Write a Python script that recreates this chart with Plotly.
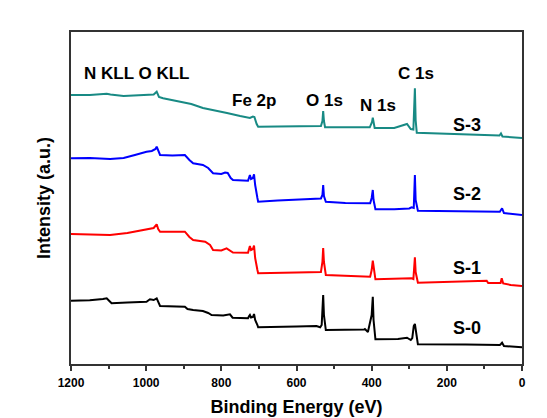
import plotly.graph_objects as go

# Binding energy (eV) and intensity (a.u., offset stacked) for each sample
e_s3 = [1200, 1150, 1105, 1095, 1060, 1000, 980, 972, 966, 955, 910, 880, 849, 820, 785, 750, 724, 716, 712, 706, 702,
        650, 560, 535, 531, 529, 527, 524, 450, 405, 399, 397, 395, 392, 340, 306, 296, 289, 285, 283, 280,
        200, 100, 60, 56, 52, 20, 0]
i_s3 = [305, 305, 306.2, 305.5, 304, 305, 305.5, 308.3, 303, 301.7, 298.3, 296, 292, 290, 287, 284, 282, 283.5, 283, 276, 273.3,
        273.5, 274, 274, 279, 289, 279, 272.7, 272.7, 272.7, 278, 282.3, 278, 272, 272, 276, 271, 270.5, 311.7, 280, 267.3,
        266, 265, 264.5, 266.5, 263.5, 263, 262]

e_s2 = [1200, 1150, 1096, 1060, 1030, 999, 985, 975, 972, 968, 963, 930, 897, 885, 875, 849, 835, 822, 800, 790, 783,
        775, 769, 729, 726, 724, 721, 716, 713, 710, 704, 702, 650, 580, 547, 535, 531, 529, 527, 522, 470, 404,
        400, 397, 395, 390, 340, 300, 294, 288, 285, 283, 277, 150, 59, 56, 53, 48, 30, 0]
i_s2 = [241.7, 242, 241, 242, 245, 248.3, 249, 251, 253.3, 249, 245, 244.5, 245, 240, 236.7, 235, 232, 226.7, 226, 227.5, 227,
        222, 220, 219.3, 223, 225, 221, 222, 225.7, 215, 202, 198.3, 199.5, 201, 201.7, 201.5, 205, 215, 204, 198.3, 197, 196.7,
        202, 210, 200, 190.7, 190.7, 191.5, 192.7, 192, 225, 200, 189.3, 188.5, 188.3, 190, 191.7, 187, 186, 185]

e_s1 = [1200, 1150, 1096, 1050, 990, 980, 972, 968, 963, 897, 885, 875, 843, 830, 822, 800, 786, 778, 769, 729, 726,
        724, 721, 716, 713, 710, 704, 702, 600, 547, 535, 531, 529, 527, 522, 404, 400, 397, 394, 390, 294, 289,
        285, 283, 277, 150, 94, 90, 57, 54, 50, 30, 0]
i_s1 = [166, 165.5, 165, 167, 170.7, 172, 175.7, 171, 168.3, 168.3, 163, 160, 158.3, 155, 150, 149.5, 151.7, 150, 147.5, 147.3, 152,
        154, 150, 151, 154.5, 142, 130, 126.7, 127.5, 128.3, 128, 138, 152, 138, 125, 123.3, 130, 139.3, 130, 120.7, 121.7, 121,
        142.7, 128, 117.3, 118.5, 119.3, 117, 117, 121.7, 116.5, 115, 114]

e_s0 = [1200, 1150, 1115, 1105, 1098, 1092, 1050, 999, 990, 980, 972, 968, 963, 897, 890, 875, 849, 835, 826, 795, 777,
        770, 729, 726, 724, 721, 716, 713, 710, 704, 702, 600, 547, 537, 533, 531, 529, 527, 522, 420, 418, 410,
        400, 397, 395, 390, 330, 306, 296, 292, 288, 285, 283, 277, 150, 94, 59, 56, 53, 48, 20, 0]
i_s0 = [99.3, 99.7, 101, 101.7, 99, 96.7, 97.5, 98.3, 100.7, 100, 101.7, 98, 94, 93.3, 91, 90, 89, 87, 85, 84.5, 85.7,
        82.3, 81.7, 84, 85, 82.5, 83, 86, 80, 75, 72.7, 73.5, 74, 72.7, 75, 90, 105, 85, 70, 70.5, 71, 68,
        85, 103.3, 80, 60.7, 61, 62.3, 60, 62, 74, 76, 70, 55.7, 55.5, 55.2, 55, 56, 57.3, 54, 53.5, 52.7]

series_names = ["S-3", "S-2", "S-1", "S-0"]
series_colors = ["#188a84", "#0000ff", "#ff0000", "#000000"]
series_e = [e_s3, e_s2, e_s1, e_s0]
series_i = [i_s3, i_s2, i_s1, i_s0]

# label positions (eV, intensity)
sample_label_x = [146, 146, 146, 146]
sample_label_y = [275, 206, 132, 72]

peak_labels = ["N KLL O KLL", "Fe 2p", "O 1s", "N 1s", "C 1s"]
peak_label_x = [1027, 712, 525, 383, 283]
peak_label_y = [327, 300, 300, 295, 327]

FONT = "Liberation Sans, Arial, Helvetica, sans-serif"

fig = go.Figure()
for name, col, ex, iy in zip(series_names, series_colors, series_e, series_i):
    fig.add_trace(go.Scatter(x=ex, y=iy, mode="lines", name=name,
                             line=dict(color=col, width=2), showlegend=False))

for t, x, y in zip(series_names, sample_label_x, sample_label_y):
    fig.add_annotation(x=x, y=y, text="<b>" + t + "</b>", showarrow=False,
                       font=dict(family=FONT, size=18, color="black"))
for t, x, y in zip(peak_labels, peak_label_x, peak_label_y):
    fig.add_annotation(x=x, y=y, text="<b>" + t + "</b>", showarrow=False,
                       font=dict(family=FONT, size=17, color="black"))

# page body adds an 8px offset; size the figure so the plot lands where the reference has it
fig.update_layout(
    width=539, height=410,
    margin=dict(l=63, r=25, t=24, b=54),
    paper_bgcolor="white", plot_bgcolor="white",
    font=dict(family=FONT, color="black"),
)
fig.update_xaxes(
    range=[1200, 0], tickmode="linear", tick0=0, dtick=200,
    ticks="outside", ticklen=5, tickwidth=1.5, tickcolor="#333",
    minor=dict(ticks="outside", ticklen=3, dtick=100, tickcolor="#333", tickwidth=1.5),
    showline=True, linecolor="#333", linewidth=1.5, mirror=True,
    showgrid=False, zeroline=False, automargin=False, ticklabelstandoff=2,
    tickfont=dict(family=FONT, size=12, color="black", weight="bold"),
    title=dict(text="<b>Binding Energy (eV)</b>", font=dict(family=FONT, size=18, color="black"), standoff=11),
)
fig.update_yaxes(
    range=[36, 368], showticklabels=False, ticks="",
    showline=True, linecolor="#333", linewidth=1.5, mirror=True,
    showgrid=False, zeroline=False, automargin=False,
    title=dict(text="<b>Intensity (a.u.)</b>", font=dict(family=FONT, size=18, color="black"), standoff=14),
)

fig.write_html("out.html")
